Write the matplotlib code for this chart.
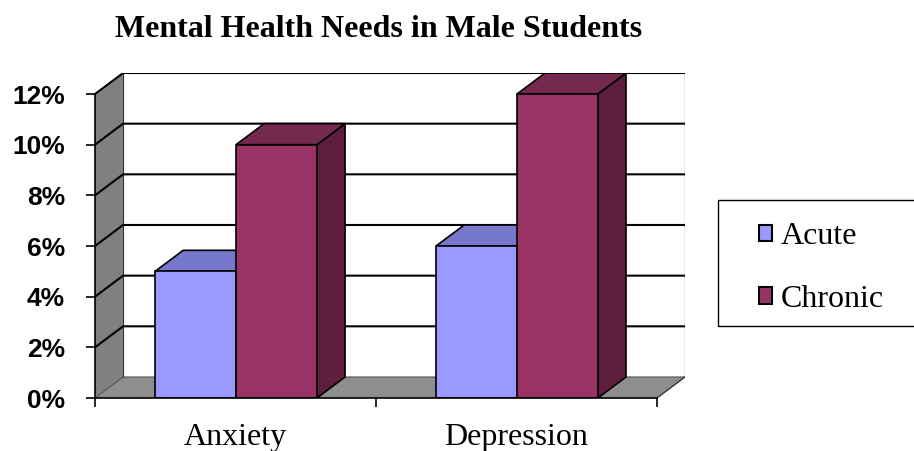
import matplotlib
matplotlib.use("Agg")
import matplotlib.pyplot as plt
from matplotlib.patches import Polygon, Rectangle, Patch

# data
categories = ["Anxiety", "Depression"]
series = ["Acute", "Chronic"]
acute = [5, 6]
chronic = [10, 12]
yticks = [0, 2, 4, 6, 8, 10, 12]

# colours: front, top, side
colors = {
    "Acute": ("#9999FF", "#7777CC", "#5F5FA8"),
    "Chronic": ("#993366", "#74294F", "#5E1F3F"),
}

DX, DY = 0.1, 0.83        # 3d depth offset in data units
GAP, WIDTH = 0.214, 0.288  # bar layout inside one category
YMAX = 12

fig = plt.figure(figsize=(9.14, 4.51), dpi=100)
ax = fig.add_axes([95 / 914, 53 / 451, 590 / 914, 325 / 451])
ax.set_xlim(0, len(categories) + DX)
ax.set_ylim(0, YMAX + DY)

n = len(categories)

# walls and floor
ax.add_patch(Polygon([(0, 0), (DX, DY), (DX, YMAX + DY), (0, YMAX)],
                     fc="#808080", ec="none", zorder=1))
ax.add_patch(Polygon([(0, 0), (n, 0), (n + DX, DY), (DX, DY)],
                     fc="#8E8E8E", ec="none", zorder=1))
ax.plot([DX, DX], [DY, YMAX + DY], color="#333333", lw=0.8, zorder=2)
ax.plot([n + DX, n + DX], [DY, YMAX + DY], color="#AAAAAA", lw=1.0, zorder=2)
ax.plot([0, DX, n + DX], [0, DY, DY], color="#555555", lw=0.8, zorder=2)
ax.plot([n, n + DX], [0, DY], color="#333333", lw=1.0, zorder=2)
for k in yticks[1:]:
    ax.plot([0, DX, n + DX], [k, k + DY, k + DY], color="black", lw=1.5, zorder=2)

# bars
for i, cat in enumerate(categories):
    for j, (name, vals) in enumerate(zip(series, [acute, chronic])):
        front, top, side = colors[name]
        x0 = i + GAP + j * WIDTH
        x1 = x0 + WIDTH
        h = vals[i]
        z = 3 + j
        ax.add_patch(Polygon([(x1, 0), (x1 + DX, DY), (x1 + DX, h + DY), (x1, h)],
                             fc=side, ec="black", lw=1.2, zorder=z))
        ax.add_patch(Polygon([(x0, h), (x0 + DX, h + DY), (x1 + DX, h + DY), (x1, h)],
                             fc=top, ec="black", lw=1.2, zorder=z))
        ax.add_patch(Rectangle((x0, 0), WIDTH, h, fc=front, ec="black", lw=1.2, zorder=z))

# axes
for s in ["top", "right"]:
    ax.spines[s].set_visible(False)
ax.spines["left"].set_bounds(0, YMAX)
ax.spines["bottom"].set_bounds(0, n)
for s in ["left", "bottom"]:
    ax.spines[s].set_linewidth(1.2)
    ax.spines[s].set_zorder(6)

ax.set_yticks(yticks)
ax.set_yticklabels([f"{v}%" for v in yticks], fontsize=19, fontweight="bold",
                   family="Liberation Sans")
ax.tick_params(axis="y", direction="out", length=6.5, width=1.2, pad=15)

ax.set_xticks(range(n + 1))
ax.set_xticklabels([])
ax.set_xticks([i + 0.5 for i in range(n)], minor=True)
ax.set_xticklabels(categories, minor=True, fontsize=23, family="Liberation Serif")
ax.tick_params(axis="x", which="major", direction="out", length=6.5, width=1.2)
ax.tick_params(axis="x", which="minor", length=0, pad=18)

# title
fig.text(379 / 914, 1 - 37 / 451, "Mental Health Needs in Male Students",
         ha="center", va="baseline", fontsize=23, fontweight="bold",
         family="Liberation Serif")

# legend box
fig.patches.append(Rectangle((718 / 914, 1 - 326 / 451), 0.3, 126 / 451,
                             transform=fig.transFigure, fc="white", ec="black",
                             lw=1.0, figure=fig))
handles = [Patch(fc=colors[s][0], ec="black", lw=1.5) for s in series]
fig.legend(handles, series, loc="center left",
           bbox_to_anchor=(743 / 914, 1 - 268 / 451), frameon=False,
           prop={"family": "Liberation Serif", "size": 23},
           handlelength=0.42, handleheight=0.42, handletextpad=0.25,
           labelspacing=1.05, borderpad=0)

fig.savefig("out.png", dpi=100)
